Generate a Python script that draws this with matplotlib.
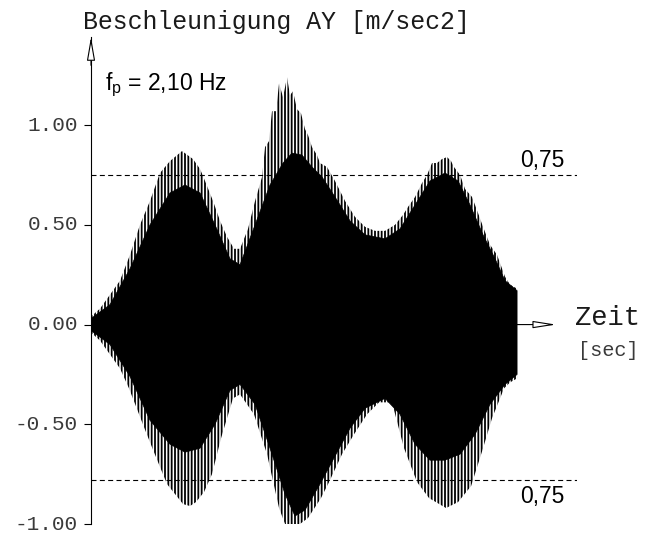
import matplotlib
matplotlib.use("Agg")
import matplotlib.pyplot as plt
import numpy as np

plt.rcParams['axes.unicode_minus'] = False
plt.rcParams['mathtext.fontset'] = 'custom'
plt.rcParams['mathtext.rm'] = 'Liberation Sans'
plt.rcParams['mathtext.it'] = 'Liberation Sans'
plt.rcParams['hatch.linewidth'] = 1.3

# envelope of the spikes (time in s, acceleration in m/sec2)
t_spk_up = [0.0, 1.26, 2.67, 4.07, 5.48, 6.88, 8.29, 9.69, 11.10, 12.79, 14.33, 15.32,
            16.02, 17.14, 18.13, 19.11, 20.10, 20.94, 22.06, 23.05, 24.03, 24.45, 25.01,
            25.43, 26.00, 26.42, 26.98, 27.54, 27.96, 28.38, 28.94, 29.50, 30.07, 30.49,
            31.05, 31.75, 32.17, 33.16, 34.28, 35.69, 37.09, 38.50, 39.90, 41.31, 42.71,
            43.84, 44.54, 45.53, 46.51, 47.21, 47.91, 48.61, 49.32, 50.02, 50.58, 51.00,
            51.85, 52.55, 53.53, 54.37, 55.08, 56.06, 57.04, 58.17, 58.87, 59.86]
a_spk_up = [0.04, 0.08, 0.15, 0.22, 0.35, 0.50, 0.62, 0.76, 0.82, 0.87, 0.83, 0.78,
            0.72, 0.62, 0.52, 0.44, 0.38, 0.38, 0.48, 0.62, 0.74, 0.89, 0.92,
            1.07, 1.07, 1.21, 1.14, 1.24, 1.15, 1.17, 1.08, 1.06, 0.98, 0.95,
            0.89, 0.85, 0.81, 0.79, 0.72, 0.62, 0.54, 0.49, 0.47, 0.47, 0.50,
            0.55, 0.59, 0.64, 0.71, 0.75, 0.81, 0.81, 0.83, 0.84, 0.82, 0.79,
            0.75, 0.68, 0.64, 0.56, 0.49, 0.40, 0.35, 0.24, 0.20, 0.18]
t_spk_lo = [0.0, 1.26, 2.67, 4.07, 5.34, 7.73, 8.85, 10.68, 12.93, 13.91, 14.75, 15.88,
            17.00, 18.27, 19.11, 19.95, 20.94, 22.90, 24.73, 26.42, 27.26, 28.38, 29.36,
            30.49, 32.31, 33.44, 35.27, 36.96, 38.78, 40.47, 42.29, 43.98, 45.81, 47.49,
            49.88, 51.57, 53.40, 55.08, 56.34, 58.03, 58.87, 59.86]
a_spk_lo = [-0.04, -0.08, -0.15, -0.22, -0.32, -0.54, -0.64, -0.80, -0.90, -0.91, -0.89, -0.84,
            -0.75, -0.57, -0.47, -0.37, -0.35, -0.45, -0.65, -0.92, -1.00, -1.04, -1.00,
            -0.97, -0.87, -0.79, -0.65, -0.55, -0.45, -0.39, -0.39, -0.62, -0.79, -0.87,
            -0.92, -0.89, -0.81, -0.62, -0.47, -0.32, -0.29, -0.27]

# solid (dense) part of the signal
t_core_up = [0, 2.67, 5.48, 8.29, 11.10, 13.21, 15.32, 17.42, 19.53, 20.94, 23.05, 25.15,
             26.98, 28.24, 29.64, 31.05, 32.46, 34.28, 36.39, 38.50, 41.31, 43.42, 45.53,
             47.63, 49.74, 51.57, 53.25, 55.08, 56.77, 58.17, 59.86]
a_core_up = [0.03, 0.10, 0.28, 0.50, 0.66, 0.70, 0.66, 0.50, 0.33, 0.30, 0.50, 0.70,
             0.81, 0.86, 0.85, 0.79, 0.74, 0.64, 0.52, 0.45, 0.43, 0.48, 0.60,
             0.72, 0.76, 0.72, 0.60, 0.45, 0.33, 0.22, 0.17]
t_core_lo = [0, 2.67, 5.48, 8.29, 11.10, 13.21, 15.32, 17.42, 19.53, 20.94, 23.05, 25.15,
             27.26, 28.66, 30.07, 32.17, 34.28, 36.39, 38.50, 41.31, 43.42, 45.53, 47.63,
             49.74, 51.85, 53.96, 56.06, 58.17, 59.86]
a_core_lo = [-0.03, -0.10, -0.26, -0.48, -0.60, -0.64, -0.62, -0.50, -0.33, -0.30, -0.40, -0.62,
             -0.85, -0.96, -0.93, -0.80, -0.66, -0.52, -0.42, -0.37, -0.45, -0.60, -0.68,
             -0.68, -0.65, -0.55, -0.40, -0.30, -0.25]

limit_up = 0.75
limit_lo = -0.78
yticks = [-1.0, -0.5, 0.0, 0.5, 1.0]

W, H = 645, 533
fig = plt.figure(figsize=(W / 100, H / 100), dpi=100)
ax = fig.add_axes([91 / W, 9 / H, 486 / W, 487 / H])
ax.set_xlim(0, 68.28)
ax.set_ylim(-1.0, 1.442)

# spikes as dense vertical strokes, solid core on top
ax.fill(np.r_[t_spk_up, t_spk_lo[::-1]], np.r_[a_spk_up, a_spk_lo[::-1]],
        facecolor='none', edgecolor='black', hatch='|||||', linewidth=0, zorder=2)
ax.fill(np.r_[t_core_up, t_core_lo[::-1]], np.r_[a_core_up, a_core_lo[::-1]],
        facecolor='black', edgecolor='black', linewidth=0.5, zorder=3)

ax.hlines([limit_up, limit_lo], 0, 68.28, colors='black', linewidth=0.8,
          linestyles=[(0, (4.5, 3))], zorder=4)

for sp in ['top', 'right', 'bottom']:
    ax.spines[sp].set_visible(False)
ax.spines['left'].set_linewidth(0.8)
ax.set_xticks([])
ax.set_yticks(yticks)
ax.set_yticklabels([f'{v:.2f}' for v in yticks], family='Liberation Mono',
                   fontsize=15.2, color='#3a3a3a', va='center')
ax.tick_params(axis='y', direction='out', length=5, width=0.8, pad=4.3)

# axis arrows
ax.annotate('', xy=(0, 1.442), xytext=(0, 1.30), annotation_clip=False,
            arrowprops=dict(arrowstyle='-|>,head_length=1.44,head_width=0.25',
                            mutation_scale=10, fc='white', ec='black', lw=0.8,
                            shrinkA=0, shrinkB=0))
ax.annotate('', xy=(65.33, 0), xytext=(59.86, 0), annotation_clip=False,
            arrowprops=dict(arrowstyle='-|>,head_length=1.4,head_width=0.22',
                            mutation_scale=10, fc='white', ec='black', lw=0.8,
                            shrinkA=0, shrinkB=0), zorder=5)

fig.text(83 / W, 1 - 22 / H, 'Beschleunigung AY [m/sec2]', family='Liberation Mono',
         fontsize=17.9, ha='left', va='center', color='#1a1a1a')
fig.text(575 / W, 1 - 318 / H, 'Zeit', family='Liberation Mono',
         fontsize=19.5, ha='left', va='center', color='#1a1a1a')
fig.text(578 / W, 1 - 350 / H, '[sec]', family='Liberation Mono',
         fontsize=14.6, ha='left', va='center', color='#3a3a3a')
fig.text(105 / W, 1 - 90 / H, r'f$_{\mathrm{p}}$ = 2,10 Hz', family='Liberation Sans',
         fontsize=16.5, ha='left', va='baseline')
fig.text(520 / W, 1 - 167 / H, '0,75', family='Liberation Sans',
         fontsize=16.5, ha='left', va='baseline')
fig.text(520 / W, 1 - 503 / H, '0,75', family='Liberation Sans',
         fontsize=16.5, ha='left', va='baseline')

fig.savefig('out.png', dpi=100, facecolor='white')
